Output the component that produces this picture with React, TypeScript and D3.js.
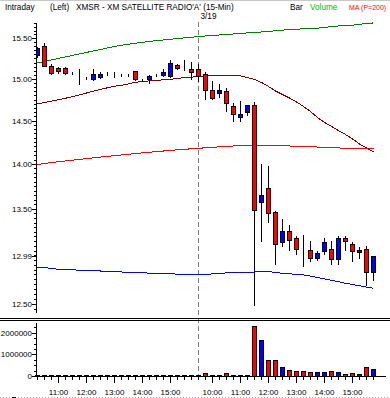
import React, { useEffect, useRef } from 'react';
import * as d3 from 'd3';

// 15-min bars: 3/18 from 10:15, then the whole 3/19 session
const dayOneTimes = ['10:15', '10:30', '10:45', '11:00', '11:15', '11:30', '11:45', '12:00', '12:15', '12:30', '12:45',
  '13:00', '13:15', '13:30', '13:45', '14:00', '14:15', '14:30', '14:45', '15:00', '15:15', '15:30', '15:45'];
const dayTwoTimes = ['9:30', '9:45', '10:00', '10:15', '10:30', '10:45', '11:00', '11:15', '11:30', '11:45', '12:00',
  '12:15', '12:30', '12:45', '13:00', '13:15', '13:30', '13:45', '14:00', '14:15', '14:30', '14:45', '15:00', '15:15',
  '15:30', '15:45'];
const barTimes = dayOneTimes.concat(dayTwoTimes);

const opens = [15.29, 15.40, 15.155, 15.13, 15.135, 15.08, 15.06, 15.005, 15.00, 15.025, 15.075, 15.055, 15.045,
  15.055, 15.09, 14.995, 15.00, 15.045, 15.05, 15.035, 15.175, 15.15, 15.115, 15.125, 15.055, 14.87, 14.83, 14.85,
  14.67, 14.545, 14.605, 14.68, 13.57, 13.73, 13.465, 13.14, 13.255, 13.185, 13.085, 13.06, 12.97, 13.04, 13.07,
  12.965, 13.185, 13.12, 13.035, 13.07, 12.82];
const highs = [15.40, 15.45, 15.19, 15.155, 15.155, 15.10, 15.13, 15.03, 15.13, 15.095, 15.095, 15.095, 15.07,
  15.075, 15.095, 15.01, 15.055, 15.07, 15.135, 15.245, 15.19, 15.245, 15.22, 15.195, 15.09, 14.99, 14.945, 14.90,
  14.72, 14.74, 14.69, 14.735, 14.005, 13.99, 13.49, 13.40, 13.335, 13.22, 13.23, 13.165, 13.06, 13.19, 13.165,
  13.21, 13.21, 13.15, 13.095, 13.11, 13.005];
const lows = [15.27, 15.16, 15.06, 15.075, 15.06, 15.055, 14.94, 14.995, 14.99, 15.01, 15.045, 15.025, 15.04,
  15.04, 14.99, 14.98, 14.955, 15.03, 15.04, 15.025, 15.12, 15.11, 15.00, 14.97, 14.76, 14.76, 14.78, 14.61,
  14.495, 14.495, 14.57, 12.49, 13.15, 13.355, 12.91, 13.10, 13.06, 13.015, 12.885, 12.935, 12.945, 13.01, 12.91,
  12.91, 13.06, 12.94, 12.97, 12.685, 12.745];
const closes = [15.38, 15.16, 15.07, 15.095, 15.075, 15.08, 15.06, 15.005, 15.055, 15.055, 15.075, 15.055, 15.05,
  15.055, 15.00, 14.995, 15.04, 15.045, 15.08, 15.19, 15.135, 15.15, 15.08, 15.04, 14.865, 14.77, 14.86, 14.71,
  14.58, 14.58, 14.68, 13.49, 13.655, 13.45, 13.115, 13.255, 13.165, 13.07, 13.085, 12.97, 13.025, 13.14, 12.965,
  13.185, 13.155, 13.04, 13.06, 12.82, 12.995];
const volumes = [60000, 60000, 60000, 30000, 30000, 30000, 60000, 30000, 30000, 30000, 30000, 30000, 30000, 30000,
  30000, 30000, 30000, 30000, 30000, 30000, 30000, 60000, 60000, 60000, 150000, 60000, 30000, 150000, 60000, 30000,
  30000, 2310000, 1660000, 740000, 740000, 415000, 277000, 230000, 230000, 185000, 185000, 185000, 230000, 185000,
  90000, 140000, 90000, 415000, 320000];

const upperBand = [15.201, 15.219, 15.238, 15.257, 15.275, 15.294, 15.313, 15.331, 15.350, 15.368, 15.387, 15.406,
  15.421, 15.433, 15.446, 15.458, 15.469, 15.479, 15.487, 15.496, 15.505, 15.513, 15.521, 15.529, 15.538, 15.544,
  15.550, 15.557, 15.563, 15.569, 15.576, 15.582, 15.588, 15.594, 15.603, 15.611, 15.620, 15.623, 15.628, 15.635,
  15.636, 15.645, 15.658, 15.664, 15.667, 15.674, 15.686, 15.693, 15.703];
const midLine = [14.703, 14.721, 14.737, 14.754, 14.772, 14.791, 14.811, 14.835, 14.857, 14.878, 14.898, 14.917,
  14.926, 14.946, 14.965, 14.974, 14.981, 14.986, 14.996, 15.001, 15.011, 15.021, 15.027, 15.035, 15.041, 15.045,
  15.048, 15.048, 15.046, 15.041, 15.023, 14.999, 14.962, 14.914, 14.859, 14.817, 14.775, 14.727, 14.674, 14.614,
  14.543, 14.485, 14.438, 14.390, 14.344, 14.292, 14.234, 14.188, 14.142];
const maLine = [13.999, 14.010, 14.022, 14.031, 14.039, 14.048, 14.057, 14.066, 14.075, 14.084, 14.092, 14.100,
  14.108, 14.116, 14.124, 14.132, 14.139, 14.146, 14.153, 14.160, 14.167, 14.173, 14.178, 14.184, 14.190, 14.196,
  14.201, 14.206, 14.211, 14.215, 14.219, 14.220, 14.220, 14.219, 14.216, 14.213, 14.211, 14.206, 14.203, 14.201,
  14.199, 14.196, 14.192, 14.188, 14.186, 14.184, 14.183, 14.181, 14.181];
const lowerBand = [12.878, 12.876, 12.866, 12.858, 12.855, 12.852, 12.849, 12.846, 12.843, 12.840, 12.837, 12.833,
  12.830, 12.827, 12.824, 12.821, 12.818, 12.814, 12.812, 12.810, 12.808, 12.806, 12.805, 12.805, 12.806, 12.810,
  12.815, 12.820, 12.823, 12.826, 12.826, 12.829, 12.837, 12.837, 12.824, 12.816, 12.811, 12.805, 12.800, 12.788,
  12.772, 12.758, 12.743, 12.729, 12.713, 12.700, 12.688, 12.674, 12.661];

const priceTicks = [15.5, 15.0, 14.5, 14.0, 13.5, 12.99, 12.5];
const priceTickLabels = ['15.50', '15.00', '14.50', '14.00', '13.50', '12.99', '12.50'];
const volumeTicks = [2000000, 1000000, 0];
const volumeTickLabels = ['2000000', '1000000', '0'];

const UP = '#0000ff';
const DOWN = '#ff0000';

const App = () => {
  const ref = useRef<SVGSVGElement>(null);

  useEffect(() => {
    const svg = d3.select(ref.current);
    svg.selectAll('*').remove();

    const font = 'Liberation Sans, Arial, sans-serif';
    const snap = (v: number) => Math.floor(v) + 0.5;
    const n = barTimes.length;
    const bars = d3.range(n);

    const x = d3.scaleBand<number>().domain(bars).range([34, 377]);
    const cx = (i: number) => (x(i) as number) + x.bandwidth() / 2;
    const y = d3.scaleLog().domain([12.41, 15.74]).range([313, 20]);
    const yv = d3.scaleLinear().domain([0, 2470000]).range([376.5, 323]);
    const color = (i: number) => (closes[i] > opens[i] ? UP : DOWN);

    svg.append('rect').attr('width', 390).attr('height', 398).attr('fill', '#fff');
    svg.append('line').attr('x1', 0).attr('x2', 390).attr('y1', 0.5).attr('y2', 0.5).attr('stroke', '#c8c8c8');
    svg.append('line').attr('x1', 0).attr('x2', 390).attr('y1', 397.5).attr('y2', 397.5)
      .attr('stroke', '#a0a0a0').attr('stroke-dasharray', '1,2');
    svg.append('line').attr('x1', 12).attr('x2', 16).attr('y1', 397.5).attr('y2', 397.5).attr('stroke', '#000');

    // header
    const header = svg.append('g').style('font', `8.2px ${font}`).style('white-space', 'pre');
    header.append('text').attr('x', 5).attr('y', 9.5).text('Intraday');
    header.append('text').attr('x', 50).attr('y', 9.5).text('(Left)');
    header.append('text').attr('x', 76).attr('y', 9.5).text("XMSR - XM SATELLITE RADIO'A'  (15-Min)");
    header.append('text').attr('x', 290).attr('y', 9.5).text('Bar');
    header.append('text').attr('x', 310).attr('y', 9.5).attr('fill', '#00c000').text('Volume');
    header.append('text').attr('x', 349).attr('y', 9.5).attr('fill', '#ff0000')
      .style('font-size', '7px').text('MA (P=200)');

    // day separator
    const dayX = cx(dayOneTimes.length);
    svg.append('line').attr('x1', dayX).attr('x2', dayX).attr('y1', 22).attr('y2', 376)
      .attr('stroke', '#808080').attr('stroke-dasharray', '5,3');
    svg.append('text').attr('x', dayX + 2).attr('y', 18.5).style('font', `8.2px ${font}`).text('3/19');

    // panel separator
    [318.5, 320.5].forEach((yy) => {
      svg.append('line').attr('x1', 0).attr('x2', 390).attr('y1', yy).attr('y2', yy).attr('stroke', '#000');
    });

    // price panel
    svg.append('clipPath').attr('id', 'price-clip')
      .append('rect').attr('x', 37).attr('y', 20).attr('width', 353).attr('height', 296);
    const price = svg.append('g').attr('clip-path', 'url(#price-clip)').attr('shape-rendering', 'crispEdges');

    const line = d3.line<number>().x((d, i) => cx(i)).y((d) => y(d));
    const series: [number[], string][] = [
      [upperBand, '#008000'], [midLine, '#800000'], [maLine, '#ff0000'], [lowerBand, '#0000ff']];
    series.forEach(([s, c]) => {
      price.append('path').attr('d', line(s)).attr('fill', 'none').attr('stroke', c);
    });

    price.selectAll('line.wick').data(bars).enter().append('line')
      .attr('x1', (i) => cx(i)).attr('x2', (i) => cx(i))
      .attr('y1', (i) => snap(y(highs[i]))).attr('y2', (i) => snap(y(lows[i])))
      .attr('stroke', '#000');

    price.selectAll('rect.body').data(bars).enter().append('rect')
      .attr('x', (i) => cx(i) - 2)
      .attr('y', (i) => snap(y(Math.max(opens[i], closes[i]))))
      .attr('width', 4)
      .attr('height', (i) => snap(y(Math.min(opens[i], closes[i]))) - snap(y(Math.max(opens[i], closes[i]))))
      .attr('fill', (i) => color(i))
      .attr('stroke', '#000');

    // price axis
    const pAxis = svg.append('g').attr('shape-rendering', 'crispEdges');
    pAxis.append('line').attr('x1', 36.5).attr('x2', 36.5).attr('y1', 23).attr('y2', 313).attr('stroke', '#000');
    d3.range(12.45, 15.75, 0.05).forEach((v) => {
      const yy = snap(y(v));
      if (yy < 23 || yy > 313) return;
      pAxis.append('line').attr('x1', 34).attr('x2', 36).attr('y1', yy).attr('y2', yy).attr('stroke', '#000');
    });
    priceTicks.forEach((v, k) => {
      const yy = snap(y(v));
      pAxis.append('line').attr('x1', 32).attr('x2', 36).attr('y1', yy).attr('y2', yy).attr('stroke', '#000');
      svg.append('text').attr('x', 32).attr('y', yy).attr('dy', '0.35em').attr('text-anchor', 'end')
        .style('font', `8px ${font}`).text(priceTickLabels[k]);
    });

    // volume panel
    const vol = svg.append('g').attr('shape-rendering', 'crispEdges');
    vol.selectAll('rect').data(bars).enter().append('rect')
      .attr('x', (i) => cx(i) - 2)
      .attr('y', (i) => snap(yv(volumes[i])))
      .attr('width', 4)
      .attr('height', (i) => Math.max(1, snap(yv(0)) - snap(yv(volumes[i]))))
      .attr('fill', (i) => color(i))
      .attr('stroke', '#000');

    vol.append('line').attr('x1', 36.5).attr('x2', 36.5).attr('y1', 323).attr('y2', 377).attr('stroke', '#000');
    vol.append('line').attr('x1', 36).attr('x2', 386).attr('y1', 376.5).attr('y2', 376.5).attr('stroke', '#000');
    d3.range(0, 2450000, 250000).forEach((v) => {
      const yy = snap(yv(v));
      vol.append('line').attr('x1', 34).attr('x2', 36).attr('y1', yy).attr('y2', yy).attr('stroke', '#000');
    });
    volumeTicks.forEach((v, k) => {
      const yy = snap(yv(v));
      vol.append('line').attr('x1', 32).attr('x2', 36).attr('y1', yy).attr('y2', yy).attr('stroke', '#000');
      svg.append('text').attr('x', 32).attr('y', yy).attr('dy', '0.35em').attr('text-anchor', 'end')
        .style('font', `8px ${font}`).text(volumeTickLabels[k]);
    });

    // time axis
    bars.forEach((i) => {
      const hour = barTimes[i].endsWith(':00');
      vol.append('line').attr('x1', cx(i)).attr('x2', cx(i)).attr('y1', 377).attr('y2', hour ? 383 : 380)
        .attr('stroke', '#000');
      if (hour) {
        svg.append('text').attr('x', cx(i)).attr('y', 395).attr('text-anchor', 'middle')
          .style('font', `8px ${font}`).text(barTimes[i]);
      }
    });
  }, []);

  return (
    <svg ref={ref} width={390} height={398} style={{ position: 'absolute', left: 0, top: 0, display: 'block' }}></svg>
  );
};

export default App;
